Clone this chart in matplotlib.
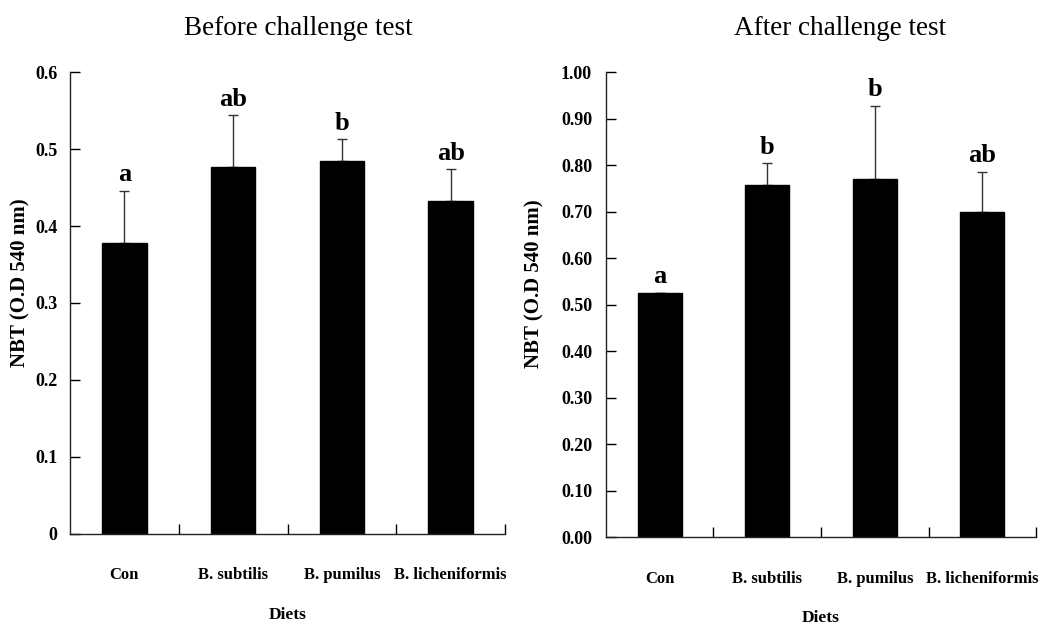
import matplotlib
matplotlib.use("Agg")
import matplotlib.pyplot as plt
import numpy as np

plt.rcParams["font.family"] = ["Liberation Serif", "DejaVu Serif"]

diets = ["Con", "B. subtilis", "B. pumilus", "B. licheniformis"]

before_mean = [0.378, 0.476, 0.485, 0.433]
before_err = [0.068, 0.068, 0.028, 0.041]
before_letters = ["a", "ab", "b", "ab"]
before_ticks = [0, 0.1, 0.2, 0.3, 0.4, 0.5, 0.6]
before_ticklabels = ["0", "0.1", "0.2", "0.3", "0.4", "0.5", "0.6"]

after_mean = [0.526, 0.758, 0.770, 0.699]
after_err = [0.0, 0.046, 0.158, 0.087]
after_letters = ["a", "b", "b", "ab"]
after_ticks = [0.0, 0.1, 0.2, 0.3, 0.4, 0.5, 0.6, 0.7, 0.8, 0.9, 1.0]
after_ticklabels = ["%.2f" % t for t in after_ticks]

fig = plt.figure(figsize=(10.55, 6.3), dpi=100)
ax1 = fig.add_axes([0.0664, 0.1524, 0.4123, 0.7333])
ax2 = fig.add_axes([0.5744, 0.1471, 0.4076, 0.7386])


def panel(ax, means, errs, letters, ticks, ticklabels, title, title_x, ylab_x, ypad):
    x = np.arange(len(diets))
    ax.bar(x, means, width=0.41, color="black", edgecolor="black", zorder=2)
    # only the upper half of the error bar is shown
    ax.errorbar(x, means, yerr=[np.zeros(len(errs)), errs], fmt="none",
                ecolor="#333333", elinewidth=1, capsize=3.5, capthick=1, zorder=1)
    for xi, m, e, s in zip(x, means, errs, letters):
        ax.annotate(s, (xi, m + e), xytext=(0, 3), textcoords="offset points",
                    ha="center", va="bottom", fontsize=19, fontweight="bold")

    ax.set_xlim(-0.5, len(diets) - 0.5)
    ax.set_ylim(ticks[0], ticks[-1])
    ax.set_xticks(x)
    ax.set_xticklabels(diets, fontsize=12, fontweight="bold")
    ax.set_xticks(x + 0.5, minor=True)
    ax.tick_params(axis="x", which="major", length=0, pad=24)
    ax.tick_params(axis="x", which="minor", direction="in", length=7, width=1)
    ax.set_yticks(ticks)
    ax.set_yticklabels(ticklabels, fontsize=13, fontweight="bold")
    ax.tick_params(axis="y", direction="in", length=7, width=1, pad=ypad)

    for side in ["top", "right"]:
        ax.spines[side].set_visible(False)
    for side in ["left", "bottom"]:
        ax.spines[side].set_linewidth(1.0)
        ax.spines[side].set_color("#222222")

    ax.set_xlabel("Diets", fontsize=12.5, fontweight="bold", labelpad=17)
    ax.set_ylabel("NBT (O.D 540 nm)", fontsize=15, fontweight="bold")
    ax.yaxis.set_label_coords(ylab_x, 0.545)
    ax.set_title(title, fontsize=19.5, x=title_x, pad=27)


panel(ax1, before_mean, before_err, before_letters, before_ticks, before_ticklabels,
      "Before challenge test", 0.524, -0.092, 9)
panel(ax2, after_mean, after_err, after_letters, after_ticks, after_ticklabels,
      "After challenge test", 0.544, -0.142, 10)

fig.savefig("out.png", dpi=100)
